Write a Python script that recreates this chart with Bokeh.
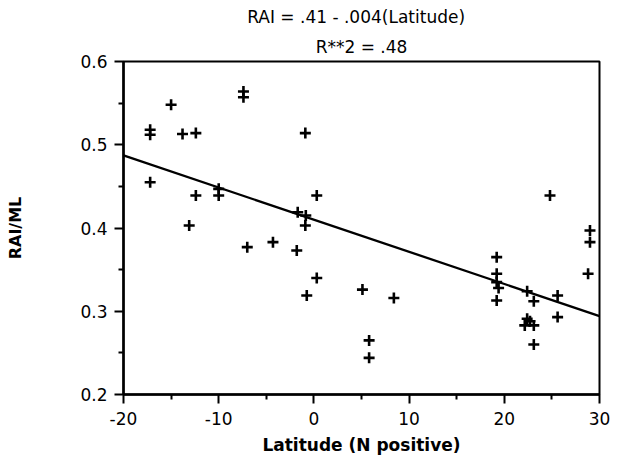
from bokeh.plotting import figure
from bokeh.models import Range1d, FixedTicker, Title, ColumnDataSource
from bokeh.embed import file_html
from bokeh.resources import INLINE

# data
latitude = [-17.2, -17.2, -15.0, -13.8, -12.4, -7.4, -7.4, -0.9, -17.2, -12.4,
            -10.0, -10.0, -13.1, -1.7, -0.85, -0.9, -7.0, -4.3, -1.8, -0.75,
            0.3, 0.3, 24.8, 5.1, 8.4, 5.8, 5.8, 19.2, 19.2, 19.2,
            19.4, 19.2, 22.4, 23.1, 25.6, 22.4, 22.15, 23.1, 22.7, 23.1,
            25.6, 29.0, 29.0, 28.8]
rai_ml = [0.518, 0.512, 0.548, 0.513, 0.514, 0.564, 0.557, 0.514, 0.455, 0.439,
          0.447, 0.439, 0.403, 0.419, 0.415, 0.403, 0.377, 0.383, 0.373, 0.319,
          0.439, 0.340, 0.439, 0.326, 0.316, 0.265, 0.244, 0.365, 0.345, 0.335,
          0.328, 0.313, 0.324, 0.312, 0.319, 0.291, 0.283, 0.283, 0.288, 0.260,
          0.293, 0.397, 0.383, 0.345]
fit_intercept = 0.41
fit_slope = -0.00386
x_ticks = [-20, -10, 0, 10, 20, 30]
x_tick_labels = ["-20", "-10", "0", "10", "20", "30"]
x_minor = [-15, -5, 5, 15, 25]
y_ticks = [0.2, 0.3, 0.4, 0.5, 0.6]
y_minor = [0.25, 0.35, 0.45, 0.55]
title_line1 = "RAI = .41  -  .004(Latitude)"
title_line2 = "R**2 = .48"

FONT = "DejaVu Sans"

p = figure(width=610, height=458, output_backend="svg", toolbar_location=None,
           x_range=Range1d(-20, 30), y_range=Range1d(0.2, 0.6),
           min_border_left=123, min_border_right=11, min_border_top=61,
           min_border_bottom=64)
p.grid.visible = False
p.outline_line_color = "black"
p.outline_line_width = 2
p.background_fill_color = "white"
p.border_fill_color = "white"

src = ColumnDataSource(dict(x=latitude, y=rai_ml))
fit_x = [x_ticks[0], x_ticks[-1]]
fit_y = [fit_intercept + fit_slope * v for v in fit_x]
p.line(fit_x, fit_y, line_color="black", line_width=2.3)
p.scatter("x", "y", source=src, marker="cross", size=11, line_color="black",
          line_width=2.6)

for ax in (p.xaxis[0], p.yaxis[0]):
    ax.axis_line_width = 2.5
    ax.axis_line_color = "black"
    ax.major_tick_line_width = 2
    ax.minor_tick_line_width = 2
    ax.major_tick_out = 9
    ax.major_tick_in = 0
    ax.minor_tick_out = 5
    ax.minor_tick_in = 0
    ax.major_label_text_font = FONT
    ax.major_label_text_font_size = "17px"
    ax.major_label_text_color = "black"
    ax.axis_label_text_font = FONT
    ax.axis_label_text_font_style = "bold"
    ax.axis_label_text_color = "black"

p.xaxis.axis_label_text_font_size = "17px"
p.yaxis.axis_label_text_font_size = "16px"
p.xaxis.ticker = FixedTicker(ticks=x_ticks, minor_ticks=x_minor)
p.xaxis.major_label_overrides = {t: s for t, s in zip(x_ticks, x_tick_labels)}
p.yaxis.ticker = FixedTicker(ticks=y_ticks, minor_ticks=y_minor)
p.xaxis.axis_label = "Latitude (N positive)"
p.yaxis.axis_label = "RAI/ML"
p.xaxis.major_label_standoff = 8
p.yaxis.major_label_standoff = 7
p.xaxis.axis_label_standoff = 7
p.yaxis.axis_label_standoff = 52

p.add_layout(Title(text=title_line2, align="center", offset=-13, standoff=10,
                   text_font=FONT, text_font_size="17px",
                   text_font_style="normal", text_color="black"), "above")
p.add_layout(Title(text=title_line1, align="center", offset=-13, standoff=6,
                   text_font=FONT, text_font_size="17px",
                   text_font_style="normal", text_color="black"), "above")

open("out.html", "w").write(file_html(p, INLINE))
